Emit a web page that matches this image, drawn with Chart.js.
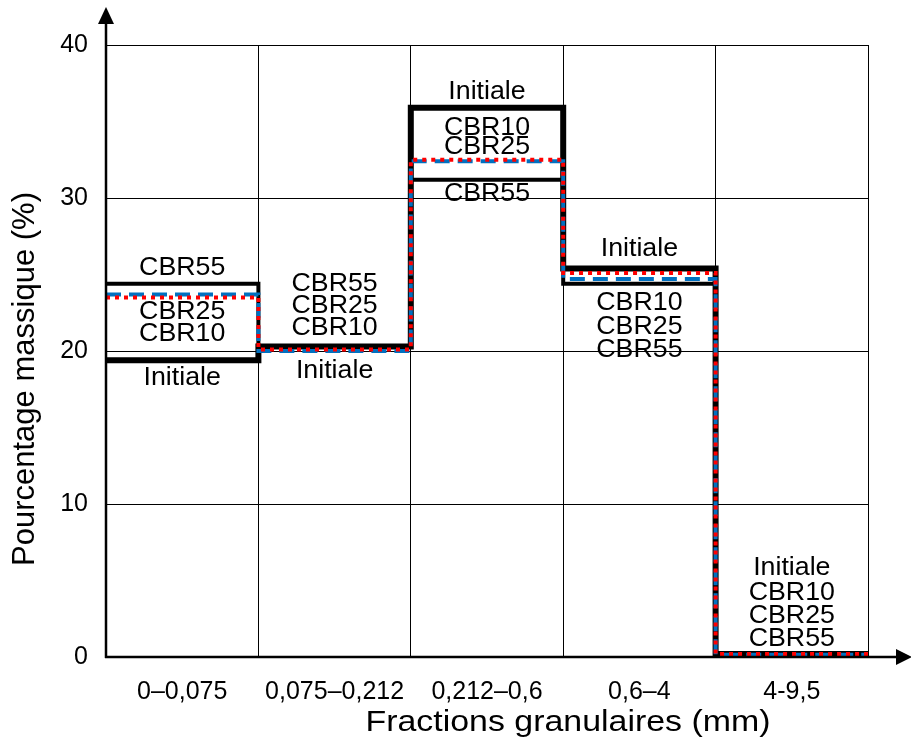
<!DOCTYPE html>
<html>
<head>
<meta charset="utf-8">
<script src="https://cdn.jsdelivr.net/npm/chart.js@4"></script>
<style>
  body { margin: 0; background: #fff; }
  canvas { display: block; }
</style>
</head>
<body>
<canvas id="chart" width="911" height="753"></canvas>
<script>
// Fractions granulaires et pourcentages massiques
const fractions = ["0–0,075", "0,075–0,212", "0,212–0,6", "0,6–4", "4-9,5"];
const initiale = [19.4, 20.3, 35.9, 25.4, 0.2];
const cbr10 = [23.7, 20.0, 32.4, 24.7, 0.15];
const cbr25 = [23.5, 20.1, 32.5, 25.1, 0.2];
const cbr55 = [24.4, 20.3, 31.2, 24.4, 0.1];
const yTicks = [0, 10, 20, 30, 40];

// étiquettes dans le graphe : [colonne, valeur, texte]
const notes = [
  [0, 25.4, "CBR55"], [0, 22.55, "CBR25"], [0, 21.1, "CBR10"], [0, 18.25, "Initiale"],
  [1, 24.4, "CBR55"], [1, 22.95, "CBR25"], [1, 21.5, "CBR10"], [1, 18.7, "Initiale"],
  [2, 36.9, "Initiale"], [2, 34.6, "CBR10"], [2, 33.3, "CBR25"], [2, 30.25, "CBR55"],
  [3, 26.65, "Initiale"], [3, 23.15, "CBR10"], [3, 21.55, "CBR25"], [3, 20.05, "CBR55"],
  [4, 5.8, "Initiale"], [4, 4.2, "CBR10"], [4, 2.65, "CBR25"], [4, 1.15, "CBR55"]
];

const FONT = "'Liberation Sans', Arial, sans-serif";
Chart.defaults.font.family = FONT;
Chart.defaults.color = "#000";

// une valeur par fraction -> points en escalier (bord gauche de chaque classe + fin)
function steps(vals) {
  const pts = vals.map((v, i) => ({ x: i, y: v }));
  pts.push({ x: vals.length, y: vals[vals.length - 1] });
  return pts;
}

function ligne(label, vals, color, width, dash, order) {
  return {
    label: label,
    data: steps(vals),
    borderColor: color,
    borderWidth: width,
    borderDash: dash,
    borderJoinStyle: "miter",
    borderCapStyle: "butt",
    stepped: true,
    pointRadius: 0,
    fill: false,
    order: order
  };
}

// texte étiré horizontalement (comme sur la figure d'origine)
function texte(ctx, t, x, y, sx) {
  ctx.save();
  ctx.translate(x, y);
  ctx.scale(sx, 1);
  ctx.fillText(t, 0, 0);
  ctx.restore();
}

// ============================
// Flèches d'axes, titres, étiquettes
// ============================
const dessin = {
  id: "dessin",
  afterDraw(chart) {
    const ctx = chart.ctx;
    const a = chart.chartArea;
    const x = chart.scales.x, y = chart.scales.y;

    ctx.save();
    ctx.fillStyle = "#000";
    ctx.strokeStyle = "#000";

    // axe Y + flèche
    ctx.lineWidth = 2.5;
    ctx.beginPath();
    ctx.moveTo(a.left, a.bottom + 1);
    ctx.lineTo(a.left, 22);
    ctx.stroke();
    ctx.beginPath();
    ctx.moveTo(a.left, 7);
    ctx.lineTo(a.left - 8, 24);
    ctx.lineTo(a.left + 8, 24);
    ctx.closePath();
    ctx.fill();

    // axe X + flèche
    ctx.beginPath();
    ctx.moveTo(a.left - 1, a.bottom);
    ctx.lineTo(898, a.bottom);
    ctx.stroke();
    ctx.beginPath();
    ctx.moveTo(912, a.bottom);
    ctx.lineTo(896, a.bottom - 8);
    ctx.lineTo(896, a.bottom + 8);
    ctx.closePath();
    ctx.fill();

    // étiquettes des courbes
    ctx.font = "25px " + FONT;
    ctx.textAlign = "center";
    ctx.textBaseline = "middle";
    notes.forEach(([c, v, t]) => {
      texte(ctx, t, x.getPixelForValue(c + 0.5), y.getPixelForValue(v), 1.07);
    });

    // titres des axes
    ctx.font = "30px " + FONT;
    texte(ctx, "Fractions granulaires (mm)", 568, 723, 1.13);
    ctx.font = "31px " + FONT;
    ctx.translate(25, 379);
    ctx.rotate(-Math.PI / 2);
    ctx.fillText("Pourcentage massique (%)", 0, 0);
    ctx.restore();
  }
};

new Chart(document.getElementById("chart"), {
  type: "line",
  data: {
    datasets: [
      ligne("Initiale", initiale, "#000000", 6, [], 4),
      ligne("CBR55", cbr55, "#000000", 4, [], 3),
      ligne("CBR10", cbr10, "#0070C0", 4, [15, 8], 2),
      ligne("CBR25", cbr25, "#FF0000", 4, [4, 5], 1)
    ]
  },
  options: {
    responsive: false,
    animation: false,
    layout: { padding: { top: 45, right: 43, left: 0, bottom: 0 } },
    plugins: { legend: { display: false }, tooltip: { enabled: false } },
    scales: {
      x: {
        type: "linear",
        min: 0,
        max: fractions.length,
        ticks: { display: false, stepSize: 1 },
        grid: { color: "#000", lineWidth: 1, drawTicks: false },
        border: { display: false },
        afterFit(s) { s.height = 0; }
      },
      xc: {
        type: "category",
        labels: fractions,
        position: "bottom",
        offset: true,
        grid: { display: false, drawTicks: false },
        border: { display: false },
        ticks: { font: { size: 25 }, padding: 20, maxRotation: 0, autoSkip: false },
        afterFit(s) { s.height = 96; }
      },
      y: {
        min: 0,
        max: 40,
        afterBuildTicks(s) { s.ticks = yTicks.map(v => ({ value: v })); },
        ticks: { font: { size: 25 }, padding: 18 },
        grid: { color: "#000", lineWidth: 1, drawTicks: false },
        border: { display: false },
        afterFit(s) { s.width = 106; }
      }
    }
  },
  plugins: [dessin]
});
</script>
</body>
</html>
